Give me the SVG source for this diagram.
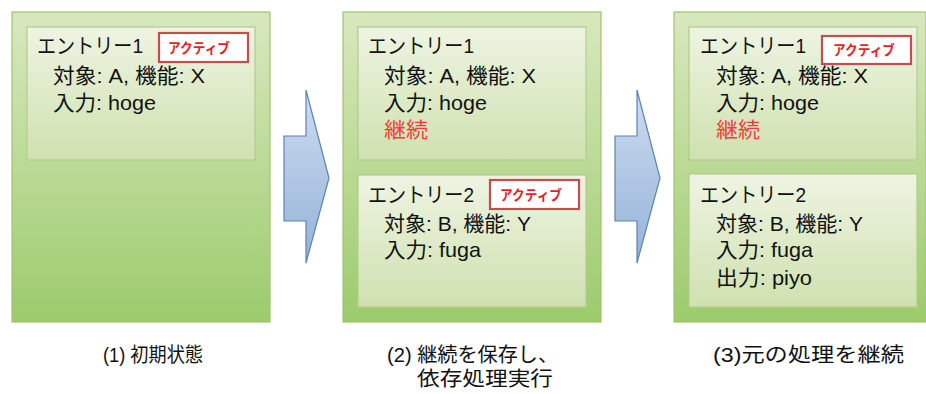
<svg xmlns="http://www.w3.org/2000/svg" width="926" height="394" viewBox="0 0 926 394">
<defs>
<linearGradient id="gOuter" x1="0" y1="0" x2="0" y2="1">
<stop offset="0" stop-color="#d8e8be"/>
<stop offset="1" stop-color="#9ccb6c"/>
</linearGradient>
<linearGradient id="gInner" x1="0" y1="0" x2="0" y2="1">
<stop offset="0" stop-color="#eef4e2"/>
<stop offset="1" stop-color="#cfe1af"/>
</linearGradient>
<linearGradient id="gArrow" x1="0" y1="0" x2="0" y2="1">
<stop offset="0" stop-color="#cedcf0"/>
<stop offset="1" stop-color="#94b2d8"/>
</linearGradient>
</defs>
<style>
.outer{fill:url(#gOuter);stroke:#a4c26e;stroke-width:1.2}
.inner{fill:url(#gInner);stroke:#b4cb8c;stroke-width:1.2}
.badge{fill:#ffffff;stroke:#c0504d;stroke-width:2.2}
.btxt{font-family:"Liberation Sans","Noto Sans CJK JP",sans-serif;font-size:14px;font-weight:bold;fill:#ee1c24}
.t{font-family:"Liberation Sans","Noto Sans CJK JP",sans-serif;font-size:21px;fill:#111111}
.red{fill:#f23c3c}
.lbl{font-family:"Liberation Sans","Noto Sans CJK JP",sans-serif;font-size:20px;fill:#111111}
.arrow{fill:url(#gArrow);stroke:#5b83b8;stroke-width:1.2}
</style>

<g id="panel1">
<rect class="outer" x="12" y="12" width="258" height="310"/>
<g id="p1-entry1">
<rect class="inner" x="27" y="27" width="228" height="133"/>
<text class="t" x="37" y="53" textLength="106" lengthAdjust="spacingAndGlyphs">エントリー1</text>
<text class="t" x="53" y="83" textLength="152" lengthAdjust="spacingAndGlyphs">対象: A, 機能: X</text>
<text class="t" x="53" y="110" textLength="103" lengthAdjust="spacingAndGlyphs">入力: hoge</text>
<rect class="badge" x="159" y="33" width="89" height="29"/>
<text class="btxt" x="168" y="53" textLength="62" lengthAdjust="spacingAndGlyphs">アクティブ</text>
</g>
</g>

<g id="panel2">
<rect class="outer" x="343" y="12" width="258" height="310"/>
<g id="p2-entry1">
<rect class="inner" x="358" y="27" width="228" height="133"/>
<text class="t" x="368" y="53" textLength="106" lengthAdjust="spacingAndGlyphs">エントリー1</text>
<text class="t" x="384" y="83" textLength="152" lengthAdjust="spacingAndGlyphs">対象: A, 機能: X</text>
<text class="t" x="384" y="110" textLength="103" lengthAdjust="spacingAndGlyphs">入力: hoge</text>
<text class="t red" x="384" y="137" textLength="44" lengthAdjust="spacingAndGlyphs">継続</text>
</g>
<g id="p2-entry2">
<rect class="inner" x="358" y="175" width="228" height="132"/>
<text class="t" x="368" y="202" textLength="106" lengthAdjust="spacingAndGlyphs">エントリー2</text>
<text class="t" x="384" y="231" textLength="147" lengthAdjust="spacingAndGlyphs">対象: B, 機能: Y</text>
<text class="t" x="384" y="257" textLength="97" lengthAdjust="spacingAndGlyphs">入力: fuga</text>
<rect class="badge" x="490" y="180" width="89" height="29"/>
<text class="btxt" x="500" y="200" textLength="62" lengthAdjust="spacingAndGlyphs">アクティブ</text>
</g>
</g>

<g id="panel3">
<rect class="outer" x="674" y="12" width="252" height="310"/>
<g id="p3-entry1">
<rect class="inner" x="689" y="27" width="228" height="133"/>
<text class="t" x="700" y="53" textLength="106" lengthAdjust="spacingAndGlyphs">エントリー1</text>
<text class="t" x="716" y="83" textLength="152" lengthAdjust="spacingAndGlyphs">対象: A, 機能: X</text>
<text class="t" x="716" y="110" textLength="103" lengthAdjust="spacingAndGlyphs">入力: hoge</text>
<text class="t red" x="716" y="137" textLength="44" lengthAdjust="spacingAndGlyphs">継続</text>
<rect class="badge" x="822" y="36" width="89" height="28"/>
<text class="btxt" x="833" y="55" textLength="62" lengthAdjust="spacingAndGlyphs">アクティブ</text>
</g>
<g id="p3-entry2">
<rect class="inner" x="689" y="174" width="228" height="133"/>
<text class="t" x="700" y="202" textLength="106" lengthAdjust="spacingAndGlyphs">エントリー2</text>
<text class="t" x="716" y="231" textLength="147" lengthAdjust="spacingAndGlyphs">対象: B, 機能: Y</text>
<text class="t" x="716" y="257" textLength="97" lengthAdjust="spacingAndGlyphs">入力: fuga</text>
<text class="t" x="716" y="285" textLength="96" lengthAdjust="spacingAndGlyphs">出力: piyo</text>
</g>
</g>

<g id="connectors">
<polygon class="arrow" points="284,136 306,136 306,90 329,178 306,263 306,221 284,221"/>
<polygon class="arrow" points="615,136 637,136 637,90 660,178 637,263 637,221 615,221"/>
</g>

<g id="labels">
<text class="lbl" x="103" y="362" textLength="100" lengthAdjust="spacingAndGlyphs">(1) 初期状態</text>
<text class="lbl" x="387" y="362" textLength="171" lengthAdjust="spacingAndGlyphs">(2) 継続を保存し、</text>
<text class="lbl" x="417" y="386" textLength="136" lengthAdjust="spacingAndGlyphs">依存処理実行</text>
<text class="lbl" x="713" y="362" textLength="191" lengthAdjust="spacingAndGlyphs">(3)元の処理を継続</text>
</g>
</svg>
